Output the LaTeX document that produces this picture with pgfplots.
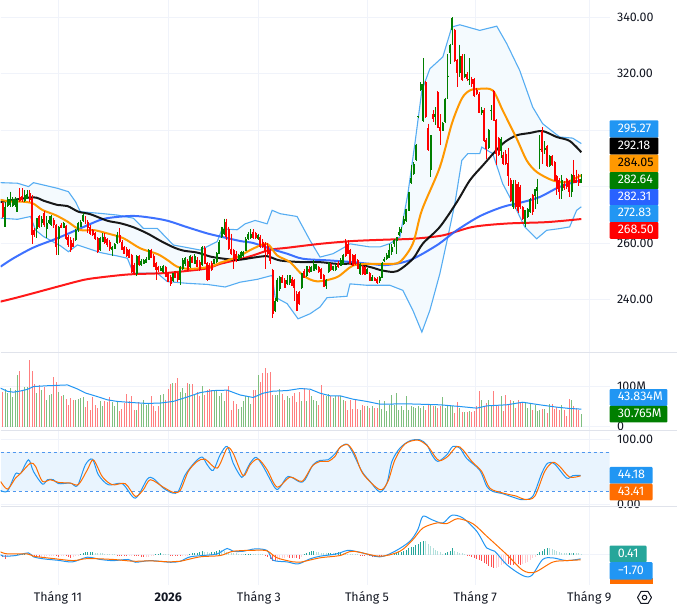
\documentclass[border=0pt]{standalone}
\usepackage{fontspec}
\setmainfont{Fira Sans}
\usepackage{pgfplots}
\usepackage{pgfplotstable}
\pgfplotsset{compat=1.18}
\usepgfplotslibrary{fillbetween}

\definecolor{gridc}{HTML}{F0F3FA}
\definecolor{sepc}{HTML}{E0E3EB}
\definecolor{txt}{HTML}{131722}
\definecolor{cup}{HTML}{007F00}
\definecolor{cdown}{HTML}{FF0000}
\definecolor{volup}{HTML}{7FBF7F}
\definecolor{voldown}{HTML}{FF7F7F}
\definecolor{tvblue}{HTML}{2196F3}
\definecolor{bbline}{HTML}{56ADF2}
\definecolor{bbfill}{HTML}{F4FAFE}
\definecolor{ma20}{HTML}{FF9800}
\definecolor{ma100}{HTML}{2962FF}
\definecolor{tvorange}{HTML}{FF6D00}
\definecolor{bandc}{HTML}{E9F4FE}
\definecolor{dashc}{HTML}{4F97EE}
\definecolor{hg}{HTML}{26A69A}
\definecolor{hl}{HTML}{B2DFDB}
\definecolor{hr}{HTML}{FF5252}
\definecolor{hp}{HTML}{FFCDD2}

% i open high low close volume(M) macd-hist hist-class (1 rising+,2 falling+,3 falling-,4 rising-)
\pgfplotstableread{
i o h l c v m k
0 274.1 274.7 268.8 269.4 85.2 -1.0 3
1 265.8 274.7 265.6 272.9 94.3 -1.7 3
2 273.1 276.4 272.9 275.5 83.5 -0.8 4
3 273.5 278.2 272.9 275.5 97.6 -0.5 4
4 273.4 276.2 272.8 275.5 72.8 -0.3 4
5 273.5 276.2 272.9 275.5 91.8 -0.2 4
6 271.1 275.9 270.9 275.3 129.0 0.1 1
7 276.2 279.4 274.7 275.0 138.9 0.1 1
8 276.6 279.4 274.7 275.3 91.8 0.2 1
9 275.0 278.8 274.7 277.0 100.1 0.2 1
10 275.8 278.8 275.5 277.4 98.4 0.15 2
11 277.6 278.8 274.7 275.3 166.2 0.1 2
12 275.8 277.0 259.7 262.9 138.9 -0.2 3
13 264.6 265.2 262.3 262.9 105.9 -0.5 3
14 265.2 269.0 261.7 268.8 83.5 -0.7 3
15 269.4 270.0 265.3 265.8 104.2 -0.9 3
16 267.2 269.4 265.6 268.4 91.8 -0.9 4
17 270.5 271.5 265.7 266.4 98.4 -0.8 4
18 265.2 269.4 261.7 267.0 67.0 -0.7 4
19 267.2 269.4 266.8 268.2 79.4 -0.6 4
20 266.4 270.0 265.9 269.4 81.9 -0.6 4
21 268.2 269.0 265.4 266.4 124.9 -0.6 4
22 266.4 266.8 255.8 258.9 112.5 -0.7 3
23 261.7 266.0 255.8 265.8 85.2 -0.8 3
24 266.4 267.0 265.2 265.6 76.9 -0.7 4
25 265.6 267.6 265.2 267.0 79.4 -0.6 4
26 266.0 266.4 261.1 261.7 68.6 -0.7 3
27 262.3 263.0 258.5 259.3 54.6 -1.0 3
28 261.1 262.0 256.9 257.8 71.1 -1.2 3
29 260.1 261.7 258.6 258.9 67.0 -0.9 4
30 261.1 265.0 260.6 264.6 67.0 -0.7 4
31 264.6 267.6 264.0 267.0 68.6 -0.3 4
32 266.0 268.2 265.6 267.6 71.1 0.2 1
33 267.9 270.8 267.6 269.9 72.8 0.5 1
34 268.8 269.6 266.9 267.2 48.8 0.9 1
35 267.6 268.2 263.4 265.6 62.9 1.1 1
36 265.8 266.4 263.0 263.4 42.2 1.2 1
37 264.6 265.0 262.5 262.9 73.6 1.2 1
38 263.4 264.0 261.2 261.7 54.6 0.8 2
39 261.7 262.0 256.6 256.9 46.3 0.7 2
40 257.5 262.3 257.0 261.7 62.9 0.6 2
41 260.5 263.5 260.2 262.3 50.4 0.5 2
42 262.3 263.4 259.8 260.1 62.9 0.4 2
43 261.3 261.7 258.7 259.3 60.4 0.3 2
44 260.5 261.0 257.0 258.1 72.8 0.3 2
45 257.5 258.9 255.4 258.7 60.4 0.2 2
46 258.1 259.9 257.8 259.7 52.1 0.1 2
47 260.1 263.9 259.5 262.8 62.9 -0.1 3
48 262.8 265.2 259.9 260.5 39.7 -0.2 3
49 260.5 261.0 257.4 257.8 43.8 -0.3 3
50 258.5 259.0 256.0 256.3 58.7 -0.3 3
51 257.8 258.5 255.0 255.4 81.9 -0.4 3
52 257.5 258.0 254.6 254.9 62.9 -0.3 4
53 255.8 256.2 249.4 249.8 76.9 -0.2 4
54 252.2 253.0 248.8 249.0 42.2 -0.3 3
55 249.3 255.8 248.3 255.4 42.2 -0.5 3
56 255.4 255.8 252.0 252.2 60.4 -0.6 3
57 252.2 254.4 251.9 253.7 57.1 -0.9 3
58 252.8 254.4 252.5 254.0 67.0 -1.0 3
59 253.0 255.0 252.8 254.2 54.6 -0.9 4
60 254.0 257.7 253.8 257.5 58.7 -0.8 4
61 257.5 258.0 254.6 254.9 76.9 -0.6 4
62 255.4 256.0 251.4 251.6 52.1 -0.2 4
63 252.8 253.2 246.9 250.7 38.0 0.1 1
64 251.6 252.0 249.8 250.4 50.4 0.2 1
65 250.2 251.9 249.9 251.0 79.4 0.5 1
66 249.8 252.2 249.5 251.9 81.9 0.4 2
67 251.6 252.0 247.9 248.1 67.0 0.3 2
68 249.3 249.8 246.2 246.3 93.5 0.1 2
69 248.1 248.5 244.9 245.7 106.7 -0.2 3
70 246.6 249.5 246.3 249.3 110.0 -0.3 3
71 249.9 250.2 247.7 247.8 108.3 -0.3 3
72 249.3 249.8 246.3 246.9 120.7 -0.4 3
73 246.9 252.0 245.1 251.6 85.2 -0.6 3
74 251.0 254.6 250.5 254.0 97.6 -0.5 4
75 252.8 255.0 251.8 254.6 83.5 -0.3 4
76 253.7 254.2 250.0 250.4 108.3 -0.1 4
77 251.6 255.8 251.2 255.4 106.7 0.3 1
78 254.9 255.5 252.9 253.0 106.7 0.5 1
79 252.8 256.0 252.5 255.4 79.4 0.7 1
80 254.0 255.0 251.4 251.6 85.2 0.8 1
81 253.4 254.0 250.2 250.4 75.3 1.0 1
82 252.2 258.9 251.9 258.7 101.7 1.3 1
83 258.1 258.9 252.4 252.8 79.4 1.0 2
84 252.8 253.2 246.5 246.9 91.8 0.9 2
85 252.2 252.8 246.9 247.2 93.5 0.8 2
86 252.8 253.5 250.2 250.4 91.8 0.9 1
87 252.6 254.4 252.4 254.2 91.8 1.2 1
88 253.4 256.8 253.0 256.3 87.7 1.6 1
89 256.3 261.0 256.0 260.5 75.3 1.9 1
90 262.3 265.8 261.7 265.6 83.5 1.8 2
91 263.5 268.6 263.0 265.0 62.9 1.5 2
92 267.4 268.6 260.9 262.1 91.8 1.2 2
93 265.0 265.8 257.6 258.0 101.7 1.0 2
94 258.0 263.3 255.8 256.4 42.2 0.8 2
95 257.4 258.0 250.9 254.4 62.9 0.7 2
96 256.2 257.0 253.4 253.8 57.1 0.6 2
97 254.1 256.2 253.8 255.6 43.8 0.4 2
98 255.0 257.2 254.7 256.8 48.8 0.3 2
99 255.6 257.2 255.2 256.8 62.9 0.2 2
100 257.4 262.0 257.0 261.5 75.3 0.2 1
101 261.5 263.9 261.0 263.3 75.3 0.3 1
102 261.9 265.0 261.5 263.3 57.1 0.4 1
103 263.9 265.0 261.5 261.9 91.8 0.3 2
104 263.5 264.0 261.5 261.9 91.8 0.2 2
105 261.5 263.3 261.2 262.7 129.0 0.1 2
106 262.1 262.7 258.2 258.6 110.8 0.1 2
107 260.3 261.5 258.2 258.6 133.1 0.1 2
108 259.7 260.2 250.9 256.8 145.6 -0.1 3
109 259.1 259.9 255.9 256.2 134.8 -1.0 3
110 257.4 258.0 252.6 253.8 137.3 -1.8 3
111 250.3 250.9 233.5 234.9 79.4 -2.4 3
112 236.1 240.5 235.5 239.6 79.4 -2.6 3
113 239.6 247.7 239.2 246.7 79.4 -2.5 4
114 243.8 248.4 243.0 247.9 93.5 -2.0 4
115 247.9 248.6 245.9 246.1 81.1 -1.5 4
116 246.7 247.5 243.9 244.2 67.0 -1.2 4
117 245.5 248.5 245.0 246.7 75.3 -1.0 4
118 245.8 248.5 245.0 248.5 71.1 -1.2 3
119 247.3 248.0 244.6 245.0 75.3 -1.4 3
120 246.7 247.3 239.6 244.1 83.5 -1.3 4
121 242.0 243.0 236.0 236.1 60.4 -1.5 3
122 242.5 243.0 238.0 238.4 85.2 -1.8 3
123 244.1 249.5 243.8 249.3 64.5 -0.8 4
124 250.0 250.8 247.5 247.7 95.9 0.3 1
125 248.5 252.0 248.0 251.7 64.5 0.7 1
126 250.9 252.0 249.5 249.7 91.8 1.0 1
127 250.0 252.0 249.7 251.5 75.3 1.3 1
128 250.3 253.8 250.0 252.4 67.0 1.4 1
129 250.9 252.6 250.5 252.6 62.9 1.1 2
130 251.5 252.0 249.4 249.7 54.6 1.0 2
131 250.9 251.3 247.1 247.3 104.2 0.8 2
132 248.5 249.0 244.4 244.6 79.4 0.7 2
133 245.0 247.3 243.8 246.7 75.3 0.5 2
134 250.0 253.3 249.5 252.9 81.9 0.6 1
135 252.6 253.0 250.2 250.5 75.3 0.8 1
136 250.5 252.0 250.2 251.7 71.1 0.7 2
137 250.5 252.6 250.2 252.0 75.3 0.8 1
138 252.9 253.6 251.3 251.5 75.3 0.9 1
139 252.0 254.5 251.7 254.0 76.9 1.0 1
140 252.6 256.2 252.2 255.6 67.0 0.8 2
141 260.3 261.5 255.0 255.6 62.9 0.6 2
142 259.7 261.0 256.0 256.2 42.2 0.4 2
143 257.4 258.0 252.3 252.6 67.0 0.3 2
144 255.6 256.0 251.8 252.0 44.7 0.2 2
145 255.6 256.0 252.2 252.6 67.0 0.1 2
146 253.8 254.4 250.6 250.9 43.8 0.1 2
147 249.1 253.0 248.8 252.6 42.2 -0.1 3
148 251.7 252.2 248.8 249.1 54.6 -0.4 3
149 251.5 252.0 248.5 248.9 50.4 -0.6 3
150 249.3 251.2 249.0 250.9 50.4 -0.5 4
151 249.3 249.8 246.4 246.7 46.3 -0.6 3
152 246.7 248.5 246.4 248.1 52.1 -0.8 3
153 247.7 248.0 246.4 246.7 46.3 -0.9 3
154 247.3 247.8 245.6 245.9 46.3 -0.7 4
155 246.5 248.2 245.8 247.9 67.0 -0.8 3
156 247.9 253.3 247.5 252.9 44.7 -0.9 3
157 253.6 255.0 253.3 254.4 62.9 -0.7 4
158 254.4 256.5 254.0 255.6 38.0 -0.4 4
159 255.0 259.8 254.5 257.4 54.6 -0.1 4
160 257.0 259.8 255.6 258.6 79.4 0.2 1
161 259.8 261.5 258.5 261.0 54.6 0.4 1
162 260.7 262.0 256.0 262.0 83.5 0.7 1
163 263.0 265.5 262.5 264.0 40.5 0.9 1
164 263.9 265.5 263.5 265.1 50.4 1.2 1
165 266.9 269.4 266.5 268.6 40.5 1.5 1
166 268.0 272.2 267.5 272.2 75.3 1.9 1
167 271.6 278.1 271.2 278.1 42.2 2.4 1
168 281.6 287.5 281.0 283.0 50.4 2.8 1
169 284.6 288.7 284.0 287.9 48.8 3.1 1
170 289.7 295.2 289.2 294.9 46.3 3.6 1
171 304.7 305.1 304.5 305.1 50.4 4.1 1
172 314.4 317.0 313.8 316.3 46.3 4.8 1
173 303.5 325.7 303.0 316.5 50.4 5.5 1
174 317.1 317.5 304.3 304.7 40.5 5.3 2
175 300.9 302.3 292.6 293.1 54.6 4.2 2
176 286.0 298.2 283.4 298.2 56.2 3.2 2
177 305.8 307.0 303.0 304.1 50.4 2.4 2
178 304.9 308.2 301.7 305.6 50.4 1.7 2
179 313.5 314.0 301.1 301.1 46.3 1.3 2
180 301.1 305.6 294.6 299.7 50.4 0.9 2
181 300.0 303.0 299.6 302.5 72.8 0.2 2
182 302.9 311.6 302.4 311.2 46.3 0.5 1
183 318.9 327.1 311.2 319.4 50.4 1.0 1
184 327.7 330.7 323.6 330.1 52.1 1.6 1
185 335.6 340.0 330.1 339.9 50.4 2.4 1
186 335.6 336.0 324.2 324.8 33.9 1.3 2
187 324.8 325.2 315.5 320.6 60.4 1.1 2
188 320.6 330.4 319.0 326.2 46.3 0.8 2
189 326.5 327.0 317.5 317.9 35.6 0.6 2
190 319.1 327.1 318.5 319.8 35.6 0.2 2
191 319.8 320.5 317.5 318.3 35.6 -0.2 3
192 317.9 325.7 315.9 318.3 38.0 -0.6 3
193 318.0 319.0 315.2 316.5 35.6 -0.9 3
194 318.0 318.5 311.8 312.4 38.0 -1.3 3
195 314.4 315.0 312.5 312.9 50.4 -1.7 3
196 312.9 313.5 306.0 306.4 87.7 -2.2 3
197 306.4 308.2 305.3 307.3 67.0 -2.7 3
198 307.3 307.9 295.8 296.4 52.1 -3.3 3
199 296.6 297.2 289.9 293.4 58.7 -3.9 3
200 293.8 300.5 293.2 300.2 67.0 -4.5 3
201 307.0 308.8 303.5 307.3 54.6 -5.0 3
202 313.9 314.2 303.1 303.5 89.3 -5.3 3
203 303.5 304.0 287.5 291.7 50.4 -5.2 4
204 297.2 297.6 290.9 291.4 50.4 -4.8 4
205 292.9 297.5 290.0 297.0 75.3 -4.3 4
206 291.1 292.3 287.8 288.1 38.0 -3.8 4
207 291.7 292.9 287.8 288.1 79.4 -3.7 4
208 288.4 293.8 280.3 284.0 54.6 -3.9 3
209 282.2 282.9 274.5 275.1 67.0 -4.0 3
210 272.8 282.2 272.2 281.0 62.9 -4.0 3
211 281.0 282.2 272.2 272.8 46.3 -3.8 4
212 281.0 281.5 270.5 271.6 67.0 -3.9 3
213 279.8 280.5 272.0 272.8 58.7 -4.0 3
214 272.8 273.2 268.0 268.6 58.7 -3.6 4
215 266.9 271.6 265.7 271.6 60.4 -3.2 4
216 269.4 272.4 269.0 271.9 46.3 -2.8 4
217 271.0 276.0 270.7 275.7 58.7 -2.2 4
218 276.9 277.5 269.8 271.0 42.2 -1.5 4
219 276.9 279.0 272.0 279.0 54.6 -0.8 4
220 278.7 282.8 273.9 279.9 38.0 0.2 1
221 293.1 298.2 286.4 293.5 42.2 0.9 1
222 299.9 301.1 288.1 292.3 43.8 1.6 1
223 293.1 296.0 291.5 293.8 43.8 2.2 1
224 294.3 294.8 287.0 287.5 33.9 2.6 1
225 287.5 291.2 287.0 290.7 57.1 2.4 2
226 290.7 291.2 287.3 287.9 57.1 2.2 2
227 288.7 289.2 281.9 282.2 43.8 2.0 2
228 283.6 284.0 276.9 279.3 48.8 1.4 2
229 282.2 283.0 275.7 278.1 42.2 1.0 2
230 278.7 284.2 275.7 282.2 54.6 0.7 2
231 281.0 282.0 278.7 279.6 42.2 0.6 2
232 282.8 283.2 279.2 279.9 27.3 0.5 2
233 282.0 282.5 276.3 278.4 68.6 0.5 1
234 278.1 284.6 276.3 284.0 67.0 0.5 2
235 284.0 289.5 281.5 281.6 50.4 0.6 1
236 282.5 286.0 281.2 281.6 45.5 0.5 2
237 282.8 284.6 280.1 281.6 42.2 0.45 2
238 281.6 284.3 281.2 282.64 30.765 0.41 2
}\bars

% lines are read off at the chart's horizontal position
\pgfplotstableread{
x y
0 274.5
32 276.2
43 275
57 273.5
67 273.1
78 271.1
90 270.2
107 267.9
120 267
133 265.6
147 263.4
160 260.8
173 258.5
183 257.3
197 256.6
210 255.2
220 254.6
237 254
253 254.8
267 255.3
280 253.8
303 253.2
320 253.2
337 252.6
353 252.6
370 251.5
383 250.2
397 250
413 254.4
423 259.8
440 265.7
457 274.5
470 282.2
483 287.5
495 292.3
505 295.8
517 298.2
530 299
543 299.7
557 297.6
570 296.2
581.7 292.18
}\maBlack

\pgfplotstableread{
x y
0 275.3
10 274.7
20 274.7
32 274.1
42 271.7
55 269.9
67 267.6
80 264.6
93 264.6
107 263.4
123 261.7
140 258.1
157 256.1
167 254
177 251.6
190 250.8
210 251.6
220 253
237 255
253 258
267 259.7
277 255.6
290 253.2
303 248.5
317 246.4
337 247.9
353 252
370 252.6
387 252.6
400 253.3
413 259.8
422 271.6
440 286.9
452 302.3
462 311.2
470 314.1
480 314.7
493 314.1
503 307
517 297
527 289.3
537 285.2
553 282.2
567 281.6
581.7 284.05
}\maOrange

\pgfplotstableread{
x y
0 251.6
13 254.6
33 258.4
57 261.7
80 265.2
100 268.2
113 269.1
133 269.6
150 269
167 267.9
187 265.6
207 263.4
220 262.3
240 260.7
253 260
270 258
287 256.2
303 254.4
330 253.8
353 253.2
370 252.6
387 252.2
410 253.9
437 259.2
457 264.5
480 269.5
503 272.8
523 274.5
540 276.3
560 279.9
581.7 282.31
}\maBlue

\pgfplotstableread{
x y
0 239.2
17 240.7
33 242.2
57 244.5
83 246.9
100 247.8
123 248.7
137 249
163 249.3
187 250.1
207 251
220 252.6
237 254
253 255.6
270 257.6
287 258.3
320 259.7
353 260.7
387 261.2
413 261.5
443 262.7
473 265.7
507 266.9
547 267.4
581.7 268.5
}\maRed

\pgfplotstableread{
x y
0 281.4
17 281.2
28 280
33 281.4
57 279.4
68 278.2
75 274.7
80 271.1
100 270.5
117 269.9
133 268.8
143 265.2
157 265.2
173 259.3
200 257.5
217 260.5
222 265
237 264.7
245 266.8
255 268
267 266.8
272 271.6
280 270.4
297 269.4
310 260.9
320 255
333 256.2
345 258.6
350 259.7
370 258.6
380 258.6
390 259.8
400 262.1
408 277.5
415 295.2
422 314.1
430 321.8
443 326
452 336.6
460 337.4
480 335.4
497 336.9
507 330.7
520 321.2
533 308.2
543 302.3
560 297.6
573 297.2
581.7 295.27
}\bbUpper

\pgfplotstableread{
x y
0 268.8
17 268.4
30 269.4
35 264.6
43 262.3
60 259
68 256.9
77 259.3
100 256.6
117 255.4
127 254.6
133 249.3
157 249.3
167 246.3
187 245.7
207 245.3
225 244.4
240 246.1
257 247.1
272 248.5
275 240.8
287 238.5
298 233.1
310 234.9
320 237.3
327 240.6
347 241.1
350 245.5
367 245
390 245
403 243.2
413 236.1
422 228.4
430 236.1
440 249.1
448 262.1
455 273.9
462 289.3
468 291.7
480 291.7
482 294
493 291.7
503 281
517 271.6
525 265.7
537 261.5
547 264.5
560 265.1
570 265.7
577 271.6
581.7 272.83
}\bbLower

\pgfplotstableread{
x y
0 96
7 88
13 86
20 89
27 93
33 100
47 102
67 104
77 94
85 84
97 75
107 67
117 63
133 60
147 58
160 59
173 63
187 74
200 85
213 90
227 91
240 79
253 72.8
263 83.5
273 88.5
287 90
300 95
310 93.5
320 83.5
330 77
340 77
353 68.6
367 62.9
380 56.2
407 57
440 54.6
460 50.4
477 46.3
487 52
507 54.6
523 61
540 54.6
557 48.8
570 45.5
581.7 43.834
}\volMa

\pgfplotstableread{
x y
0 21
7 20
15 46.6
20 47
28 68
33 50
42 30.7
47 37.4
53 37.4
58 31.3
70 32.3
77 28.2
85 60.5
92 69
98 45
108 29.7
122 31.3
135 9
147 38.4
153 39.4
163 24.6
172 17
178 19.5
185 45
195 65
202 72.3
207 60.5
213 51.8
220 75.9
227 88.7
233 63
240 43.6
243 42.5
250 63
256 71.8
263 57.9
275 24.6
280 26
288 42.5
300 33.8
305 37.4
313 60.5
320 67.1
328 68.2
335 77.4
340 87
347 92.3
353 78.4
362 50.2
370 35
380 18.4
387 32.3
392 65.6
400 86.1
410 97.4
420 98.9
427 91.2
432 75.9
438 65.6
447 75.9
453 88.7
460 86.1
467 70
480 52
487 27.1
493 19.5
503 15.9
513 10.7
523 6.6
533 11.8
542 47
548 63
555 61.5
567 40
573 43.6
581 44.18
}\stochK

\pgfplotstableread{
x y
0 34.8
7 23
15 40
20 47
30 63
35 58
42 34.8
50 37.4
58 33.3
70 32.3
78 30
87 52.8
93 68
102 42
112 29.7
125 31.3
135 11.8
143 22
150 37.4
163 26
173 18
180 21
188 50
197 65.6
205 69
217 55.3
227 86
233 78
243 43.6
250 60.5
258 69.2
267 52.8
277 26.1
290 41.5
302 35
312 58
320 65.6
328 65.6
335 73.3
340 87.2
348 91.2
355 76
363 46.6
380 22
388 34.8
395 68
405 92.3
418 98.4
428 88.7
435 73.3
440 66.6
448 73.3
457 88.7
463 83.6
472 65.6
482 50
490 24.6
503 17
517 12
525 7.1
535 11.8
545 50
553 64.1
560 58
570 41.5
581 43.41
}\stochD

\pgfplotstableread{
x y
0 0
3 -0.65
15 -0.4
28 0.65
33 -0.9
43 -1.7
57 -2.25
72 -2.9
87 -1.05
100 -1.95
113 -2.4
128 -1.95
135 -3.05
150 -2.4
170 -3.05
180 -2.65
190 -0.9
207 -0.25
217 0.25
227 2.4
233 1.3
243 1.3
255 2.25
267 1.6
273 -2.25
287 -2.9
298 -3.7
310 -1.7
320 -0.65
333 0
340 0.65
348 1.7
360 0.9
380 -0.9
395 1.3
410 5.25
418 9.9
423 15.15
432 13.8
443 12.5
452 15.55
463 14.5
477 9.2
487 2.6
495 1.3
507 -4
523 -8.3
532 -8.3
543 -1.95
553 -1.3
567 -2.4
581 -1.7
}\macdLine

\pgfplotstableread{
x y
0 1.05
7 0.25
27 0.25
33 -0.65
53 -1.6
73 -2.4
87 -1.6
113 -1.95
133 -2.65
150 -2.5
170 -2.9
180 -2.65
200 -0.9
220 -0.4
233 1.3
255 1.7
267 1.45
277 -1.3
293 -2.9
300 -3.05
320 -1.3
340 -0.4
353 1.3
380 -0.65
400 1.3
413 5.9
423 10.5
437 12.5
447 12.25
458 14.2
473 12.25
487 7.25
507 0
523 -6.2
535 -7
553 -3
567 -2.4
581 -2.1
}\macdSignal

\newcommand{\candles}[3]{%
  \addplot[forget plot,draw=none,no markers,
    error bars/.cd,y dir=minus,y explicit,error mark=none,
    error bar style={draw=#2,line width=0.9pt}]
    table[x expr={\thisrow{c}#1\thisrow{o} ? 2.33+2.434*\thisrow{i} : nan},
      y expr={\thisrow{h}},y error minus expr={\thisrow{h}-\thisrow{l}}] {\bars};
  \addplot[forget plot,draw=none,no markers,
    error bars/.cd,y dir=minus,y explicit,error mark=none,
    error bar style={draw=#2,line width=#3}]
    table[x expr={\thisrow{c}#1\thisrow{o} ? 2.33+2.434*\thisrow{i} : nan},
      y expr={max(\thisrow{o},\thisrow{c})},y error minus expr={abs(\thisrow{c}-\thisrow{o})+0.15}] {\bars};
}
\newcommand{\histo}[2]{%
  \addplot[forget plot,ycomb,#2,line width=1pt]
    table[x expr={\thisrow{k}==#1 ? 2.33+2.434*\thisrow{i} : nan},y=m] {\bars};
}
\newcommand{\valbox}[6]{%
  \fill[#4,rounded corners=1pt] (610,#2) rectangle (#1,#3);
  \node[anchor=mid west,inner sep=0pt,text=#5,font=\fontsize{12.5}{14}\selectfont] at (618,{(#2+#3)/2+0.5}) {#6};
}

\pgfplotsset{
  pane/.style={
    scale only axis,width=610pt,
    xmin=0,xmax=610,
    xtick={57.5,168,258.7,367,475.5,589.7},
    xticklabels={},
    grid=major,grid style={gridc,line width=0.9pt},
    axis line style={draw=none},
    tick style={draw=none},
    yticklabel pos=right,
    yticklabel style={anchor=west,xshift=4pt,font=\fontsize{12.5}{14}\selectfont,text=txt},
    clip=true,
  },
}

\begin{document}
\begin{tikzpicture}

% price pane
\begin{axis}[pane,at={(0pt,-352.5pt)},anchor=south west,height=352.5pt,
    ymin=221.2,ymax=346.03,
    ytick={240,260,280,300,320,340},
    yticklabels={240.00,260.00,280.00,300.00,320.00,340.00}]
  \addplot[name path=bbup,bbline,line width=1.1pt,forget plot] table {\bbUpper};
  \addplot[name path=bblo,bbline,line width=1.1pt,forget plot] table {\bbLower};
  \addplot[bbfill,forget plot] fill between[of=bbup and bblo];
  \addplot[smooth,cdown,line width=2pt,opacity=0.9] table {\maRed};
  \addplot[smooth,ma100,line width=2pt,opacity=0.9] table {\maBlue};
  \addplot[smooth,black,line width=2pt,opacity=0.9] table {\maBlack};
  \addplot[smooth,ma20,line width=2pt] table {\maOrange};
  \candles{>=}{cup}{2pt}
  \candles{<}{cdown}{2pt}
\end{axis}

% volume pane
\begin{axis}[pane,at={(0pt,-431pt)},anchor=south west,height=78.5pt,
    ymin=-9.9,ymax=184.9,
    ytick={0,100},yticklabels={0,100M}]
  \addplot[forget plot,ycomb,volup,line width=1pt]
    table[x expr={\thisrow{c}>=\thisrow{o} ? 2.33+2.434*\thisrow{i} : nan},y=v] {\bars};
  \addplot[forget plot,ycomb,voldown,line width=1pt]
    table[x expr={\thisrow{c}<\thisrow{o} ? 2.33+2.434*\thisrow{i} : nan},y=v] {\bars};
  \addplot[tvblue,line width=1pt] table {\volMa};
\end{axis}

% stochastic pane
\begin{axis}[pane,at={(0pt,-507pt)},anchor=south west,height=76pt,
    ymin=-4,ymax=112.8,
    ytick={0,50,100},yticklabels={0.00,,100.00}]
  \fill[bandc] (axis cs:0,20) rectangle (axis cs:610,80);
  \addplot[dashc,dashed,line width=0.9pt,forget plot] coordinates {(0,80) (610,80)};
  \addplot[dashc,dashed,line width=0.9pt,forget plot] coordinates {(0,20) (610,20)};
  \addplot[smooth,tvblue,line width=1pt] table {\stochK};
  \addplot[smooth,tvorange,line width=1pt] table {\stochD};
\end{axis}

% macd pane with the time scale under it
\begin{axis}[pane,at={(0pt,-585pt)},anchor=south west,height=78pt,
    ymin=-11.86,ymax=18.97,
    ytick={0},yticklabels={},
    xticklabels={Tháng 11,\textbf{2026},Tháng 3,Tháng 5,Tháng 7,Tháng 9},
    xticklabel style={font=\fontsize{12.5}{14}\selectfont,text=txt,anchor=base,yshift=-17pt}]
  \histo{1}{hg}
  \histo{2}{hl}
  \histo{3}{hr}
  \histo{4}{hp}
  \addplot[smooth,tvblue,line width=1pt] table {\macdLine};
  \addplot[smooth,tvorange,line width=1pt] table {\macdSignal};
\end{axis}

\begin{scope}[x=1pt,y=-1pt]
  \draw[sepc,line width=1.1pt] (0,352.5) -- (678,352.5);
  \draw[sepc,line width=1.1pt] (0,431) -- (678,431);
  \draw[sepc,line width=1.1pt] (0,507) -- (678,507);

  \valbox{659}{120}{137.3}{tvblue}{white}{295.27}
  \valbox{659}{137.3}{154.3}{black}{white}{292.18}
  \valbox{659}{154.3}{172}{ma20}{black}{284.05}
  \valbox{659}{172}{189}{cup}{white}{282.64}
  \valbox{659}{189}{205}{ma100}{white}{282.31}
  \valbox{659}{205}{222}{tvblue}{white}{272.83}
  \valbox{659}{222}{238.7}{cdown}{white}{268.50}

  \valbox{668}{389.3}{406}{tvblue}{white}{43.834M}
  \valbox{668}{406}{422.7}{cup}{white}{30.765M}

  \valbox{653}{467.3}{484}{tvblue}{white}{44.18}
  \valbox{653}{484}{500.7}{tvorange}{white}{43.41}

  \valbox{647}{546}{562.7}{hg}{white}{0.41}
  \fill[tvorange] (610,578) rectangle (653,584);
  \valbox{653}{562.7}{580}{tvblue}{white}{−1.70}

  % settings button
  \draw[txt,line width=1pt,line join=round] (638,598) -- (641.5,592) -- (648.5,592) -- (652,598) -- (648.5,604) -- (641.5,604) -- cycle;
  \draw[txt,line width=1pt] (645,598) circle (2.3);
\end{scope}

\path[use as bounding box] (0pt,0pt) rectangle (678pt,-612pt);
\end{tikzpicture}
\end{document}
